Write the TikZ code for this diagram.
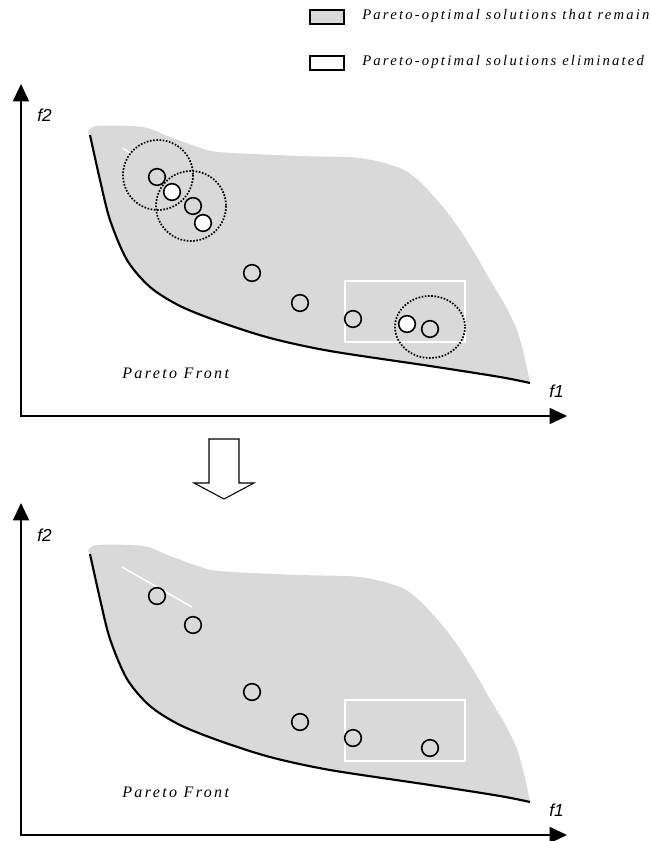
\documentclass[tikz,border=0pt]{standalone}
\usepackage{fontspec}
\setmainfont{Liberation Serif}
\newfontfamily\spacedfont[LetterSpace=15]{Liberation Serif}
\newfontfamily\axisfont{Liberation Sans}
\usetikzlibrary{arrows.meta, positioning}

% one f1/f2 plot: region, front, axes and labels
\newcommand{\paretoplot}{%
  \fill[region] plot[smooth, tension=0.5] coordinates {(88,132) (97,126) (143,127) (170,137)
      (207,150) (233,153) (300,156) (360,158) (400,168) (420,182) (443,207)
      (460,230) (477,257) (490,280) (505,305) (517,330) (524,355) (530,382)}
    -- plot[smooth, tension=0.5] coordinates {(530,383) (500,377) (430,366) (330,351)
      (270,338) (220,322) (180,306) (150,287) (127,260) (110,220) (100,180) (90,135)}
    -- cycle;
  \draw[front] plot[smooth, tension=0.5] coordinates {(90,135) (100,180) (110,220) (127,260)
      (150,287) (180,306) (220,322) (270,338) (330,351) (430,366) (500,377) (530,383)};
  \draw[whiteline] (345,281) rectangle (465,342);
  \coordinate (ytip) at (21,84);
  \coordinate (xtip) at (567,416);
  \draw[axis] (ytip) |- (xtip);
  \node[axislabel] (f2) at (37,122) {f2};
  \node[axislabel] (f1) at (549,397) {f1};
  \node[frontlabel] (front) at (122,378) {Pareto Front};
}

\begin{document}
\begin{tikzpicture}[
  x=0.75pt, y=-0.75pt,
  region/.style={fill=gray!30},
  front/.style={line width=1.6pt},
  whiteline/.style={draw=white, line width=1.1pt},
  axis/.style={line width=1.3pt, {Triangle[length=13pt, width=12pt]}-{Triangle[length=13pt, width=12pt]}},
  axislabel/.style={anchor=base west, inner sep=0pt, font=\axisfont\itshape\fontsize{13}{15}\selectfont},
  frontlabel/.style={anchor=base west, inner sep=0pt, font=\spacedfont\itshape\fontsize{12}{14}\selectfont},
  sol/.style={circle, draw, line width=1.2pt, minimum size=12.5pt, inner sep=0pt},
  gone/.style={sol, fill=white},
  near/.style={draw, dash pattern=on 1.2pt off 1.2pt, line width=1.3pt},
  legendbox/.style={draw, line width=1.3pt, minimum width=26pt, minimum height=10.5pt, inner sep=0pt},
  legendtext/.style={anchor=base west, inner sep=0pt, font=\spacedfont\itshape\fontsize{11}{13}\selectfont}
]
\useasboundingbox (0,0) rectangle (650,841);

% legend
\node[legendbox, fill=gray!30] (keepbox) at (327,17) {};
\node[legendbox, fill=white] (gonebox) at (327,63) {};
\node[legendtext] (keeptext) at (362,20) {Pareto-optimal solutions that remain};
\node[legendtext] (gonetext) at (362,66) {Pareto-optimal solutions eliminated};

% before
\begin{scope}[name prefix=top-]
  \paretoplot
  \draw[whiteline] (123,148) -- (130,153);
  \draw[near] (158,175) circle [radius=35];
  \draw[near] (191,206) circle [radius=35];
  \draw[near] (430,327) ellipse [x radius=35, y radius=31];
  \node[sol]  (s1) at (157,177) {};
  \node[gone] (s2) at (172,192) {};
  \node[sol]  (s3) at (193,206) {};
  \node[gone] (s4) at (203,223) {};
  \node[sol]  (s5) at (252,273) {};
  \node[sol]  (s6) at (300,303) {};
  \node[sol]  (s7) at (353,319) {};
  \node[gone] (s8) at (407,324) {};
  \node[sol]  (s9) at (430,329) {};
\end{scope}

% reduction step
\draw[line width=0.8pt, fill=white] (209,439) -- (239,439) -- (239,483) -- (254,483)
  -- (224,499) -- (194,483) -- (209,483) -- cycle;

% after
\begin{scope}[shift={(0,419)}, name prefix=bot-]
  \paretoplot
  \draw[whiteline] (122,148) -- (192,188);
  \node[sol] (s1) at (157,177) {};
  \node[sol] (s3) at (193,206) {};
  \node[sol] (s5) at (252,273) {};
  \node[sol] (s6) at (300,303) {};
  \node[sol] (s7) at (353,319) {};
  \node[sol] (s9) at (430,329) {};
\end{scope}
\end{tikzpicture}
\end{document}
